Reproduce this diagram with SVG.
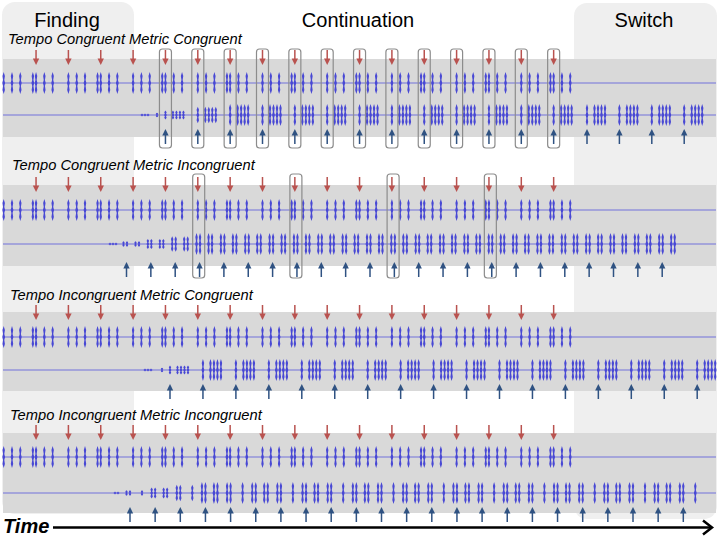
<svg xmlns="http://www.w3.org/2000/svg" xmlns:xlink="http://www.w3.org/1999/xlink" width="722" height="540" viewBox="0 0 722 540">
<style>
.panel{fill:#efefef}
.band{fill:#d9d9d9}
.wl{stroke:#7272dc;stroke-width:1.2}
.box{fill:none;stroke:#8c8c8c;stroke-width:1.2}
.hd{font-family:"Liberation Sans",Arial,sans-serif;font-size:20px;fill:#000;text-anchor:middle}
.rl{font-family:"Liberation Sans",Arial,sans-serif;font-size:14.7px;font-style:italic;fill:#000}
.dot{fill:#5a5ad8}
</style>
<defs>
<path id="bl" d="M0,-11 L1.2,-7 L0.6,-3 L1.4,0 L0.6,3 L1.2,7 L0,11 L-1.2,7 L-0.6,3 L-1.4,0 L-0.6,-3 L-1.2,-7 Z" fill="#4848d4"/>
<g id="tA"><use href="#bl"/><use href="#bl" x="8.3"/><use href="#bl" x="16.6"/></g>
<g id="tB"><use href="#bl" x="-3.2"/><use href="#bl"/><use href="#bl" x="8.3"/><use href="#bl" x="16.6"/></g>
<g id="top">
<use href="#tA" x="3.7"/><use href="#tB" x="36.05"/><use href="#tA" x="68.4"/><use href="#tB" x="100.75"/>
<use href="#tA" x="133.1"/><use href="#tB" x="165.45"/><use href="#tA" x="197.8"/><use href="#tB" x="230.15"/>
<use href="#tA" x="262.5"/><use href="#tB" x="294.85"/><use href="#tA" x="327.2"/><use href="#tB" x="359.55"/>
<use href="#tA" x="391.9"/><use href="#tB" x="424.25"/><use href="#tA" x="456.6"/><use href="#tB" x="488.95"/>
<use href="#tA" x="521.3"/><use href="#tB" x="553.65"/>
</g>
<g id="c1"><use href="#bl"/><use href="#bl" x="7.5"/><use href="#bl" x="11"/><use href="#bl" x="14.5"/><use href="#bl" x="18"/></g>
<g id="c2"><use href="#bl" x="-3"/><use href="#bl" x="0.5"/><use href="#bl" x="9"/><use href="#bl" x="12.5"/></g>
<g id="c4a"><use href="#bl" x="-3.5"/><use href="#bl"/><use href="#bl" x="12"/></g>
<g id="c4b"><use href="#bl" x="-3.5"/><use href="#bl"/><use href="#bl" x="8.5"/><use href="#bl" x="12"/></g>
<g id="ra"><line x1="0" y1="0" x2="0" y2="10" stroke="#b9524f" stroke-width="1.5"/><polygon points="-3.2,8.5 3.2,8.5 0,15" fill="#b9524f"/></g>
<g id="ua"><polygon points="-3.2,6.5 3.2,6.5 0,0" fill="#2f5282"/><line x1="0" y1="5" x2="0" y2="15" stroke="#2f5282" stroke-width="1.5"/></g>
</defs>
<rect width="722" height="540" fill="#fff"/>
<g id="panels">
<rect class="panel" x="2" y="2" width="132" height="512" rx="13"/>
<rect class="panel" x="574" y="3" width="143" height="516" rx="13"/>
<text class="hd" x="67" y="27">Finding</text>
<text class="hd" x="358" y="27">Continuation</text>
<text class="hd" x="644" y="27">Switch</text>
</g>
<g id="bands">
<rect class="band" x="3" y="59" width="713" height="78"/>
<rect class="band" x="3" y="185" width="713" height="81"/>
<rect class="band" x="3" y="312" width="713" height="79"/>
<rect class="band" x="3" y="433" width="713" height="80"/>
</g>
<g id="row1">
<text class="rl" x="8" y="44">Tempo Congruent Metric Congruent</text>
<line class="wl" x1="3" y1="83" x2="716" y2="83"/>
<line class="wl" x1="3" y1="115" x2="716" y2="115"/>
<use href="#top" y="83"/>
<circle class="dot" cx="142" cy="115" r="1.3"/><circle class="dot" cx="145" cy="115" r="1.3"/><circle class="dot" cx="148" cy="115" r="1.3"/>
<use href="#bl" transform="translate(157 115) scale(1 0.2)"/>
<use href="#c1" transform="translate(165.45 115) scale(1 0.4)"/>
<use href="#c1" transform="translate(197.8 115) scale(1 0.75)"/>
<use href="#c1" x="230.15" y="115"/><use href="#c1" x="262.5" y="115"/><use href="#c1" x="294.85" y="115"/><use href="#c1" x="327.2" y="115"/>
<use href="#c1" x="359.55" y="115"/><use href="#c1" x="391.9" y="115"/><use href="#c1" x="424.25" y="115"/><use href="#c1" x="456.6" y="115"/>
<use href="#c1" x="488.95" y="115"/><use href="#c1" x="521.3" y="115"/><use href="#c1" x="553.65" y="115"/>
<use href="#c1" x="587" y="115"/><use href="#c1" x="619.4" y="115"/><use href="#c1" x="651.8" y="115"/><use href="#c1" x="684.2" y="115"/>
<g id="row1-red">
<use href="#ra" x="36.05" y="50"/><use href="#ra" x="68.4" y="50"/><use href="#ra" x="100.75" y="50"/><use href="#ra" x="133.1" y="50"/>
<use href="#ra" x="165.45" y="50"/><use href="#ra" x="197.8" y="50"/><use href="#ra" x="230.15" y="50"/><use href="#ra" x="262.5" y="50"/>
<use href="#ra" x="294.85" y="50"/><use href="#ra" x="327.2" y="50"/><use href="#ra" x="359.55" y="50"/><use href="#ra" x="391.9" y="50"/>
<use href="#ra" x="424.25" y="50"/><use href="#ra" x="456.6" y="50"/><use href="#ra" x="488.95" y="50"/><use href="#ra" x="521.3" y="50"/><use href="#ra" x="553.65" y="50"/>
</g>
<g id="row1-blue">
<use href="#ua" x="165.45" y="129"/><use href="#ua" x="197.8" y="129"/><use href="#ua" x="230.15" y="129"/><use href="#ua" x="262.5" y="129"/>
<use href="#ua" x="294.85" y="129"/><use href="#ua" x="327.2" y="129"/><use href="#ua" x="359.55" y="129"/><use href="#ua" x="391.9" y="129"/>
<use href="#ua" x="424.25" y="129"/><use href="#ua" x="456.6" y="129"/><use href="#ua" x="488.95" y="129"/><use href="#ua" x="521.3" y="129"/><use href="#ua" x="553.65" y="129"/>
<use href="#ua" x="587" y="129"/><use href="#ua" x="619.4" y="129"/><use href="#ua" x="651.8" y="129"/><use href="#ua" x="684.2" y="129"/>
</g>
<g id="row1-boxes">
<rect class="box" x="159.45" y="49" width="12" height="99" rx="3"/><rect class="box" x="191.8" y="49" width="12" height="99" rx="3"/>
<rect class="box" x="224.15" y="49" width="12" height="99" rx="3"/><rect class="box" x="256.5" y="49" width="12" height="99" rx="3"/>
<rect class="box" x="288.85" y="49" width="12" height="99" rx="3"/><rect class="box" x="321.2" y="49" width="12" height="99" rx="3"/>
<rect class="box" x="353.55" y="49" width="12" height="99" rx="3"/><rect class="box" x="385.9" y="49" width="12" height="99" rx="3"/>
<rect class="box" x="418.25" y="49" width="12" height="99" rx="3"/><rect class="box" x="450.6" y="49" width="12" height="99" rx="3"/>
<rect class="box" x="482.95" y="49" width="12" height="99" rx="3"/><rect class="box" x="515.3" y="49" width="12" height="99" rx="3"/>
<rect class="box" x="547.65" y="49" width="12" height="99" rx="3"/>
</g>
</g>
<g id="row2">
<text class="rl" x="12" y="170">Tempo Congruent Metric Incongruent</text>
<line class="wl" x1="3" y1="210" x2="716" y2="210"/>
<line class="wl" x1="3" y1="244" x2="716" y2="244"/>
<use href="#top" y="210"/>
<circle class="dot" cx="110" cy="244" r="1.3"/><circle class="dot" cx="113" cy="244" r="1.3"/><circle class="dot" cx="116" cy="244" r="1.3"/>
<use href="#c2" transform="translate(126.5 244) scale(1 0.25)"/>
<use href="#c2" transform="translate(150.85 244) scale(1 0.45)"/>
<use href="#c2" transform="translate(175.2 244) scale(1 0.7)"/>
<use href="#c2" x="199.55" y="244"/><use href="#c2" x="223.9" y="244"/><use href="#c2" x="248.25" y="244"/><use href="#c2" x="272.6" y="244"/>
<use href="#c2" x="296.95" y="244"/><use href="#c2" x="321.3" y="244"/><use href="#c2" x="345.65" y="244"/><use href="#c2" x="370" y="244"/>
<use href="#c2" x="394.35" y="244"/><use href="#c2" x="418.7" y="244"/><use href="#c2" x="443.05" y="244"/><use href="#c2" x="467.4" y="244"/>
<use href="#c2" x="491.75" y="244"/><use href="#c2" x="516.1" y="244"/><use href="#c2" x="540.45" y="244"/><use href="#c2" x="564.8" y="244"/>
<use href="#c2" x="589.15" y="244"/><use href="#c2" x="613.5" y="244"/><use href="#c2" x="637.85" y="244"/><use href="#c2" x="662.2" y="244"/>
<g id="row2-red">
<use href="#ra" x="36.05" y="177"/><use href="#ra" x="68.4" y="177"/><use href="#ra" x="100.75" y="177"/><use href="#ra" x="133.1" y="177"/>
<use href="#ra" x="165.45" y="177"/><use href="#ra" x="197.8" y="177"/><use href="#ra" x="230.15" y="177"/><use href="#ra" x="262.5" y="177"/>
<use href="#ra" x="294.85" y="177"/><use href="#ra" x="327.2" y="177"/><use href="#ra" x="359.55" y="177"/><use href="#ra" x="391.9" y="177"/>
<use href="#ra" x="424.25" y="177"/><use href="#ra" x="456.6" y="177"/><use href="#ra" x="488.95" y="177"/><use href="#ra" x="521.3" y="177"/><use href="#ra" x="553.65" y="177"/>
</g>
<g id="row2-blue">
<use href="#ua" x="126.5" y="262"/><use href="#ua" x="150.85" y="262"/><use href="#ua" x="175.2" y="262"/><use href="#ua" x="199.55" y="262"/>
<use href="#ua" x="223.9" y="262"/><use href="#ua" x="248.25" y="262"/><use href="#ua" x="272.6" y="262"/><use href="#ua" x="296.95" y="262"/>
<use href="#ua" x="321.3" y="262"/><use href="#ua" x="345.65" y="262"/><use href="#ua" x="370" y="262"/><use href="#ua" x="394.35" y="262"/>
<use href="#ua" x="418.7" y="262"/><use href="#ua" x="443.05" y="262"/><use href="#ua" x="467.4" y="262"/><use href="#ua" x="491.75" y="262"/>
<use href="#ua" x="516.1" y="262"/><use href="#ua" x="540.45" y="262"/><use href="#ua" x="564.8" y="262"/><use href="#ua" x="589.15" y="262"/>
<use href="#ua" x="613.5" y="262"/><use href="#ua" x="637.85" y="262"/><use href="#ua" x="662.2" y="262"/>
</g>
<g id="row2-boxes">
<rect class="box" x="192.7" y="174" width="12" height="104" rx="3"/>
<rect class="box" x="289.9" y="174" width="12" height="104" rx="3"/>
<rect class="box" x="387.1" y="174" width="12" height="104" rx="3"/>
<rect class="box" x="484.35" y="174" width="12" height="104" rx="3"/>
</g>
</g>
<g id="row3">
<text class="rl" x="10" y="300">Tempo Incongruent Metric Congruent</text>
<line class="wl" x1="3" y1="337" x2="716" y2="337"/>
<line class="wl" x1="3" y1="370" x2="716" y2="370"/>
<use href="#top" y="337"/>
<circle class="dot" cx="145" cy="370" r="1.3"/><circle class="dot" cx="148" cy="370" r="1.3"/><circle class="dot" cx="151" cy="370" r="1.3"/>
<use href="#bl" transform="translate(162 370) scale(1 0.2)"/>
<use href="#c1" transform="translate(170 370) scale(1 0.4)"/>
<use href="#c1" x="202.95" y="370"/><use href="#c1" x="235.9" y="370"/><use href="#c1" x="268.85" y="370"/><use href="#c1" x="301.8" y="370"/>
<use href="#c1" x="334.75" y="370"/><use href="#c1" x="367.7" y="370"/><use href="#c1" x="400.65" y="370"/><use href="#c1" x="433.6" y="370"/>
<use href="#c1" x="466.55" y="370"/><use href="#c1" x="499.5" y="370"/><use href="#c1" x="532.45" y="370"/><use href="#c1" x="565.4" y="370"/>
<use href="#c1" x="598.35" y="370"/><use href="#c1" x="631.3" y="370"/><use href="#c1" x="664.25" y="370"/><use href="#c1" x="697.2" y="370"/>
<g id="row3-red">
<use href="#ra" x="36.05" y="305"/><use href="#ra" x="68.4" y="305"/><use href="#ra" x="100.75" y="305"/><use href="#ra" x="133.1" y="305"/>
<use href="#ra" x="165.45" y="305"/><use href="#ra" x="197.8" y="305"/><use href="#ra" x="230.15" y="305"/><use href="#ra" x="262.5" y="305"/>
<use href="#ra" x="294.85" y="305"/><use href="#ra" x="327.2" y="305"/><use href="#ra" x="359.55" y="305"/><use href="#ra" x="391.9" y="305"/>
<use href="#ra" x="424.25" y="305"/><use href="#ra" x="456.6" y="305"/><use href="#ra" x="488.95" y="305"/><use href="#ra" x="521.3" y="305"/><use href="#ra" x="553.65" y="305"/>
</g>
<g id="row3-blue">
<use href="#ua" x="170" y="384"/><use href="#ua" x="202.95" y="384"/><use href="#ua" x="235.9" y="384"/><use href="#ua" x="268.85" y="384"/>
<use href="#ua" x="301.8" y="384"/><use href="#ua" x="334.75" y="384"/><use href="#ua" x="367.7" y="384"/><use href="#ua" x="400.65" y="384"/>
<use href="#ua" x="433.6" y="384"/><use href="#ua" x="466.55" y="384"/><use href="#ua" x="499.5" y="384"/><use href="#ua" x="532.45" y="384"/>
<use href="#ua" x="565.4" y="384"/><use href="#ua" x="598.35" y="384"/><use href="#ua" x="631.3" y="384"/><use href="#ua" x="664.25" y="384"/><use href="#ua" x="697.2" y="384"/>
</g>
</g>
<g id="row4">
<text class="rl" x="10" y="420">Tempo Incongruent Metric Incongruent</text>
<line class="wl" x1="3" y1="457" x2="716" y2="457"/>
<line class="wl" x1="3" y1="493" x2="716" y2="493"/>
<use href="#top" y="457"/>
<circle class="dot" cx="115" cy="493" r="1.3"/><circle class="dot" cx="118" cy="493" r="1.3"/>
<use href="#c4a" transform="translate(130 493) scale(1 0.25)"/>
<use href="#c4b" transform="translate(155.15 493) scale(1 0.5)"/>
<use href="#c4a" transform="translate(180.3 493) scale(1 0.75)"/>
<use href="#c4b" x="205.45" y="493"/><use href="#c4a" x="230.6" y="493"/><use href="#c4b" x="255.75" y="493"/><use href="#c4a" x="280.9" y="493"/>
<use href="#c4b" x="306.05" y="493"/><use href="#c4a" x="331.2" y="493"/><use href="#c4b" x="356.35" y="493"/><use href="#c4a" x="381.5" y="493"/>
<use href="#c4b" x="406.65" y="493"/><use href="#c4a" x="431.8" y="493"/><use href="#c4b" x="456.95" y="493"/><use href="#c4a" x="482.1" y="493"/>
<use href="#c4b" x="507.25" y="493"/><use href="#c4a" x="532.4" y="493"/><use href="#c4b" x="557.55" y="493"/><use href="#c4a" x="582.7" y="493"/>
<use href="#c4b" x="607.85" y="493"/><use href="#c4a" x="633" y="493"/><use href="#c4b" x="658.15" y="493"/><use href="#c4a" x="683.3" y="493"/>
<g id="row4-red">
<use href="#ra" x="36.05" y="425"/><use href="#ra" x="68.4" y="425"/><use href="#ra" x="100.75" y="425"/><use href="#ra" x="133.1" y="425"/>
<use href="#ra" x="165.45" y="425"/><use href="#ra" x="197.8" y="425"/><use href="#ra" x="230.15" y="425"/><use href="#ra" x="262.5" y="425"/>
<use href="#ra" x="294.85" y="425"/><use href="#ra" x="327.2" y="425"/><use href="#ra" x="359.55" y="425"/><use href="#ra" x="391.9" y="425"/>
<use href="#ra" x="424.25" y="425"/><use href="#ra" x="456.6" y="425"/><use href="#ra" x="488.95" y="425"/><use href="#ra" x="521.3" y="425"/><use href="#ra" x="553.65" y="425"/>
</g>
<g id="row4-blue">
<use href="#ua" x="130" y="507"/><use href="#ua" x="155.15" y="507"/><use href="#ua" x="180.3" y="507"/><use href="#ua" x="205.45" y="507"/>
<use href="#ua" x="230.6" y="507"/><use href="#ua" x="255.75" y="507"/><use href="#ua" x="280.9" y="507"/><use href="#ua" x="306.05" y="507"/>
<use href="#ua" x="331.2" y="507"/><use href="#ua" x="356.35" y="507"/><use href="#ua" x="381.5" y="507"/><use href="#ua" x="406.65" y="507"/>
<use href="#ua" x="431.8" y="507"/><use href="#ua" x="456.95" y="507"/><use href="#ua" x="482.1" y="507"/><use href="#ua" x="507.25" y="507"/>
<use href="#ua" x="532.4" y="507"/><use href="#ua" x="557.55" y="507"/><use href="#ua" x="582.7" y="507"/><use href="#ua" x="607.85" y="507"/>
<use href="#ua" x="633" y="507"/><use href="#ua" x="658.15" y="507"/><use href="#ua" x="683.3" y="507"/>
</g>
</g>
<g id="time-axis">
<text x="3" y="533" font-family="'Liberation Sans',Arial,sans-serif" font-size="20" font-weight="bold" font-style="italic" fill="#000">Time</text>
<line x1="53" y1="527.5" x2="711" y2="527.5" stroke="#000" stroke-width="2.5"/>
<polyline points="703,520.5 712,527.5 703,534.5" fill="none" stroke="#000" stroke-width="2.5"/>
</g>
</svg>
